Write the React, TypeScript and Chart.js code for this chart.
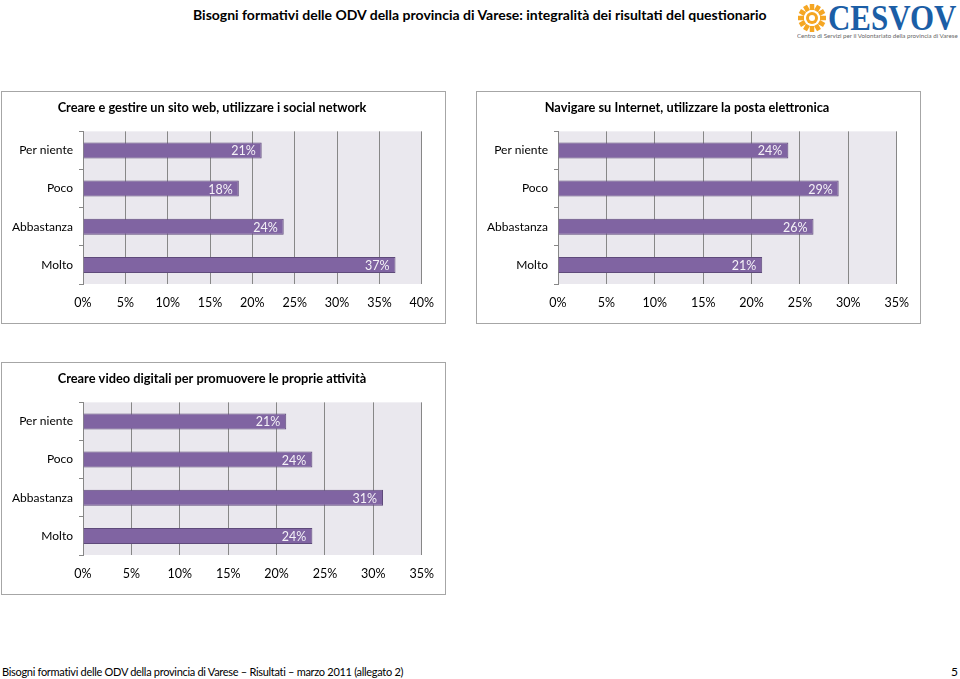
import React, { useEffect, useRef } from "react";
import { Chart, registerables } from "chart.js";

Chart.register(...registerables);

const categories = ["Per niente", "Poco", "Abbastanza", "Molto"];

const title1 = "Creare e gestire un sito web, utilizzare i social network";
const values1 = [21.1, 18.4, 23.7, 36.9];
const max1 = 40;

const title2 = "Navigare su Internet, utilizzare la posta elettronica";
const values2 = [23.8, 29.0, 26.4, 21.1];
const max2 = 35;

const title3 = "Creare video digitali per promuovere le proprie attività";
const values3 = [21.0, 23.7, 31.0, 23.7];
const max3 = 35;

const pageTitle =
  "Bisogni formativi delle ODV della provincia di Varese: integralità dei risultati del questionario";
const footerText =
  "Bisogni formativi delle ODV della provincia di Varese – Risultati – marzo 2011 (allegato 2)";
const pageNumber = "5";
const logoText = "CESVOV";
const logoSubtitle = "Centro di Servizi per il Volontariato della provincia di Varese";

const FONT = "Lato, 'Open Sans', sans-serif";
const BAR = "#8064A2";
const BAR_BORDER = "#5E4A7A";
const PLOT_BG = "#EAE8EE";
const GRID = "#878787";

const plotBgPlugin = {
  id: "plotBg",
  beforeDraw(chart: any) {
    const { ctx, chartArea } = chart;
    ctx.save();
    ctx.fillStyle = PLOT_BG;
    ctx.fillRect(chartArea.left, chartArea.top, chartArea.right - chartArea.left, chartArea.bottom - chartArea.top);
    ctx.restore();
  },
};

const labelPlugin = {
  id: "barLabels",
  afterDatasetsDraw(chart: any) {
    const { ctx } = chart;
    const meta = chart.getDatasetMeta(0);
    const data = chart.data.datasets[0].data as number[];
    ctx.save();
    ctx.font = `12.5px ${FONT}`;
    ctx.fillStyle = "#F4F2F7";
    ctx.textAlign = "right";
    ctx.textBaseline = "middle";
    meta.data.forEach((el: any, i: number) => {
      ctx.fillText(`${Math.round(data[i])}%`, el.x - 6, el.y + 1);
    });
    ctx.restore();
  },
};

function BarBox(props: { title: string; values: number[]; max: number; left: number; top: number }) {
  const ref = useRef<HTMLCanvasElement | null>(null);
  useEffect(() => {
    if (!ref.current) return;
    const chart = new Chart(ref.current, {
      type: "bar",
      data: {
        labels: categories,
        datasets: [
          {
            data: props.values,
            backgroundColor: BAR,
            borderColor: BAR_BORDER,
            borderWidth: 1,
            categoryPercentage: 1,
            barPercentage: 0.42,
          },
        ],
      },
      options: {
        indexAxis: "y",
        responsive: false,
        animation: false,
        layout: { padding: { left: 0, right: 23, top: 0, bottom: 0 } },
        plugins: {
          legend: { display: false },
          tooltip: { enabled: false },
          title: {
            display: true,
            text: props.title,
            color: "#000",
            font: { family: FONT, size: 12.8, weight: "bold" },
            padding: { top: 8, bottom: 16 },
          },
        },
        scales: {
          x: {
            min: 0,
            max: props.max,
            afterFit: (s: any) => {
              s.height = 39;
            },
            ticks: {
              stepSize: 5,
              color: "#000",
              padding: 11,
              font: { family: FONT, size: 12.5 },
              callback: (v: any) => `${v}%`,
            },
            grid: { color: GRID, drawTicks: false, lineWidth: 1 },
            border: { display: false },
          },
          y: {
            afterFit: (s: any) => {
              s.width = 81;
            },
            ticks: {
              color: "#000",
              padding: 6,
              font: { family: FONT, size: 12 },
            },
            grid: { drawOnChartArea: false, drawTicks: true, tickLength: 4, offset: true, color: GRID },
            border: { display: true, color: GRID },
          },
        },
      },
      plugins: [plotBgPlugin, labelPlugin],
    } as any);
    return () => chart.destroy();
  }, []);
  return (
    <div
      style={{
        position: "absolute",
        left: props.left,
        top: props.top,
        width: 443,
        height: 231,
        border: "1px solid #A6A6A6",
        background: "#fff",
      }}
    >
      <canvas ref={ref} width={443} height={231} style={{ display: "block" }} />
    </div>
  );
}

function Sun() {
  const rays = [];
  for (let i = 0; i < 12; i++) {
    const a = (i * Math.PI) / 6;
    rays.push(
      <line
        key={i}
        x1={15 + Math.cos(a) * 8}
        y1={14 + Math.sin(a) * 8}
        x2={15 + Math.cos(a) * 14}
        y2={14 + Math.sin(a) * 14}
        stroke="#F5A623"
        strokeWidth={4.5}
      />
    );
  }
  return (
    <svg width={30} height={28} style={{ position: "absolute", left: 797, top: 4 }}>
      {rays}
      <circle cx={15} cy={14} r={6} fill="#F5A623" />
      <circle cx={15} cy={14} r={3} fill="#fff" />
    </svg>
  );
}

export default function App() {
  return (
    <div style={{ position: "absolute", left: 0, top: 0, width: 960, height: 679, background: "#fff", overflow: "hidden", fontFamily: FONT }}>
      <div style={{ position: "absolute", left: 193, top: 6, fontSize: 14, fontWeight: "bold", color: "#000", whiteSpace: "nowrap" }}>
        {pageTitle}
      </div>
      <Sun />
      <div
        style={{
          position: "absolute",
          left: 828,
          top: 0,
          fontFamily: "'Liberation Serif', 'DejaVu Serif', serif",
          fontWeight: "bold",
          fontSize: 36,
          lineHeight: "36px",
          color: "#1B5EA6",
          whiteSpace: "nowrap",
          transform: "scaleX(0.86)",
          transformOrigin: "left top",
        }}
      >
        {logoText}
      </div>
      <div
        style={{
          position: "absolute",
          left: 797,
          top: 32,
          fontSize: 6,
          color: "#666",
          whiteSpace: "nowrap",
          transform: "scaleX(1.03)",
          transformOrigin: "left top",
        }}
      >
        {logoSubtitle}
      </div>
      <BarBox title={title1} values={values1} max={max1} left={1} top={91} />
      <BarBox title={title2} values={values2} max={max2} left={476} top={91} />
      <BarBox title={title3} values={values3} max={max3} left={1} top={362} />
      <div style={{ position: "absolute", left: 2, top: 665, fontSize: 11, letterSpacing: -0.3, color: "#000", whiteSpace: "nowrap" }}>
        {footerText}
      </div>
      <div style={{ position: "absolute", left: 951, top: 664, fontSize: 12, color: "#000" }}>{pageNumber}</div>
    </div>
  );
}
